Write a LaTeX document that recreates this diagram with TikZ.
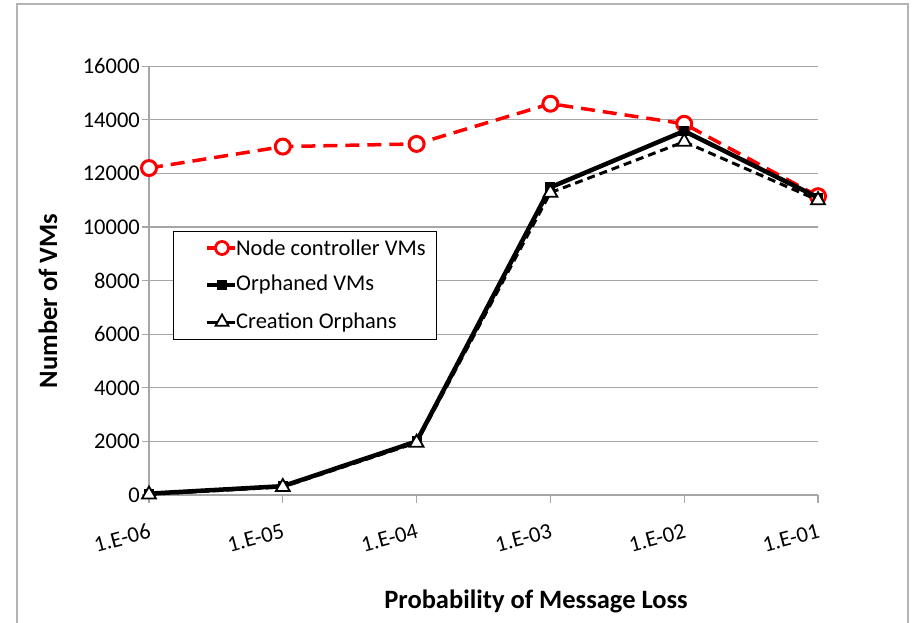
\documentclass[tikz,border=0pt]{standalone}
\usepackage{fontspec}
\setmainfont{Carlito}
\usetikzlibrary{shapes.geometric}
\definecolor{gridgray}{HTML}{A6A6A6}
\definecolor{framegray}{HTML}{B4B4B4}
\definecolor{ncred}{HTML}{FF0000}
\begin{document}
\begin{tikzpicture}[x=1pt,y=-1pt,
  grid/.style={draw=gridgray, line width=1.2pt},
  ticklab/.style={font=\fontsize{22.5}{27}\selectfont, inner sep=0pt},
  axtitle/.style={font=\fontsize{26.5}{31}\selectfont\bfseries, inner sep=0pt},
  legtext/.style={font=\fontsize{22.5}{27}\selectfont, inner sep=0pt, anchor=west},
  ncline/.style={draw=ncred, line width=3.5pt, dash pattern=on 14pt off 8pt},
  orline/.style={draw=black, line width=4.5pt},
  coline/.style={draw=black, line width=3pt, dash pattern=on 8pt off 5pt},
  ncmark/.style={circle, draw=ncred, fill=white, line width=3pt, minimum size=15pt, inner sep=0pt},
  ormark/.style={rectangle, fill=black, minimum size=10pt, inner sep=0pt},
  comark/.style={regular polygon, regular polygon sides=3, draw=black, fill=white, line width=1.8pt, minimum size=16pt, inner sep=0pt},
]
\useasboundingbox (0,0) rectangle (913,623);
\fill[white] (0,0) rectangle (913,623);
% outer frame
\draw[framegray, line width=2pt] (17,630) -- (17,4) -- (908,4) -- (908,630);

% gridlines and y labels
\foreach \v in {2,4,6,8,10,12,14,16} {
  \draw[grid] (142,{495-26.8*\v}) -- (818,{495-26.8*\v});
}
\foreach \v/\lab in {0/0,2/2000,4/4000,6/6000,8/8000,10/10000,12/12000,14/14000,16/16000} {
  \node[ticklab, anchor=east] (yl\v) at (140,{495-26.8*\v}) {\lab};
}
% axes
\draw[grid] (149,66.2) -- (149,495);
\draw[grid] (142,495) -- (818,495);
\foreach \i/\lab [count=\k] in {149/1.E-06, 282.8/1.E-05, 416.6/1.E-04, 550.4/1.E-03, 684.2/1.E-02, 818/1.E-01} {
  \draw[grid] (\i,495) -- (\i,503);
  \node[ticklab, rotate=15, anchor=north east] (xl\k) at (\i-1,523) {\lab};
}

% data coordinates
\coordinate (nc1) at (149,168.04);
\coordinate (nc2) at (282.8,146.6);
\coordinate (nc3) at (416.6,143.92);
\coordinate (nc4) at (550.4,103.72);
\coordinate (nc5) at (684.2,123.82);
\coordinate (nc6) at (818,196.18);
\coordinate (or1) at (149,493.66);
\coordinate (or2) at (282.8,486.16);
\coordinate (or3) at (416.6,441.4);
\coordinate (or4) at (550.4,187.34);
\coordinate (or5) at (684.2,131.06);
\coordinate (or6) at (818,197.52);
\coordinate (co1) at (149,494.46);
\coordinate (co2) at (282.8,486.96);
\coordinate (co3) at (416.6,442.74);
\coordinate (co4) at (550.4,192.68);
\coordinate (co5) at (684.2,141.78);
\coordinate (co6) at (818,200.2);

% node controller series
\draw[ncline] (nc1) -- (nc2) -- (nc3) -- (nc4) -- (nc5) -- (nc6);
\foreach \k in {1,...,6} { \node[ncmark] (ncm\k) at (nc\k) {}; }
% orphaned series
\draw[orline] (or1) -- (or2) -- (or3) -- (or4) -- (or5) -- (or6);
\foreach \k in {1,...,6} { \node[ormark] (orm\k) at (or\k) {}; }
% creation orphans series
\draw[coline] (co1) -- (co2) -- (co3) -- (co4) -- (co5) -- (co6);
\foreach \k in {1,...,6} { \node[comark] (com\k) at (co\k) {}; }

% legend
\node[draw=black, line width=1.3pt, fill=white, minimum width=263pt, minimum height=108pt, inner sep=0pt, anchor=north west] (legend) at (173,231) {};
\coordinate (l1a) at (207,248); \coordinate (l1b) at (235,248);
\coordinate (l2a) at (207,285); \coordinate (l2b) at (235,285);
\coordinate (l3a) at (207,322); \coordinate (l3b) at (235,322);
\draw[draw=ncred, line width=3.5pt] (l1a) -- (l1b);
\node[ncmark, minimum size=13pt, line width=2.8pt] (lm1) at (222,248) {};
\draw[orline, line width=4pt] (l2a) -- (l2b);
\node[ormark] (lm2) at (222,285) {};
\draw[black, line width=3pt] (l3a) -- (l3b);
\node[comark, minimum size=15pt] (lm3) at (222,322) {};
\node[legtext] (lt1) at (236,248) {Node controller VMs};
\node[legtext] (lt2) at (236,285) {Orphaned VMs};
\node[legtext] (lt3) at (236,322) {Creation Orphans};

% axis titles
\node[axtitle, rotate=90] (ytitle) at (48,301) {Number of VMs};
\node[axtitle] (xtitle) at (536,601) {Probability of Message Loss};
\end{tikzpicture}
\end{document}
